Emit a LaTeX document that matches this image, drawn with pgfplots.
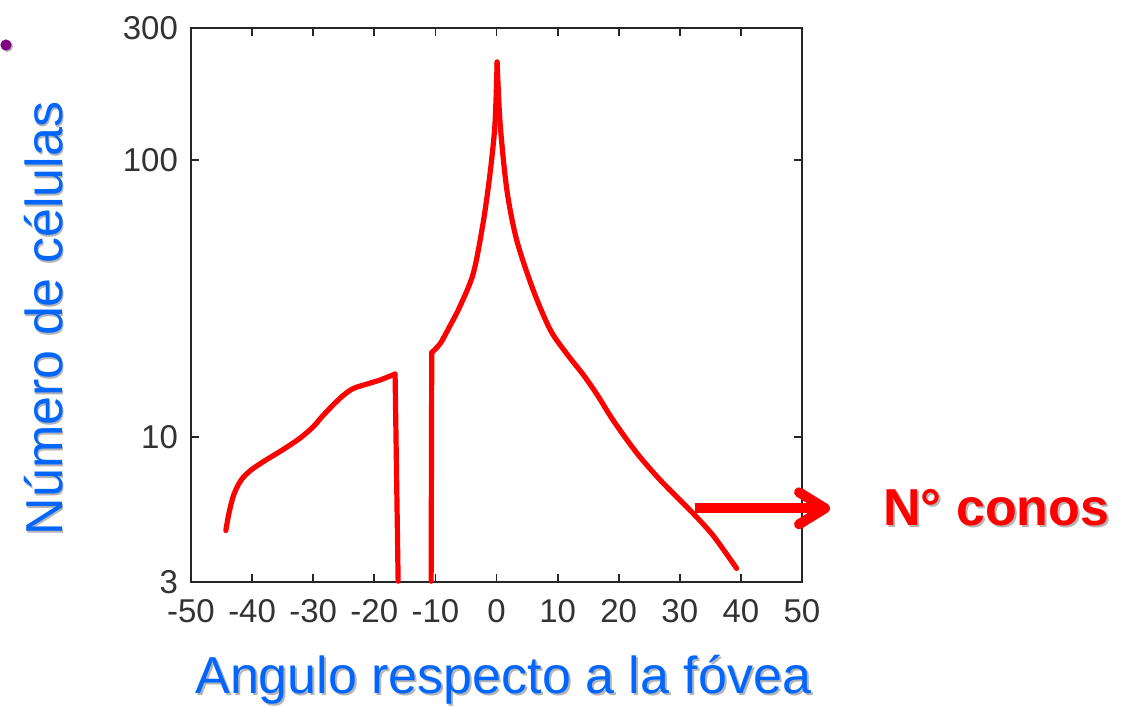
\documentclass[border=0pt]{standalone}
\usepackage{pgfplots}
\pgfplotsset{compat=1.18}
\usepackage{fontspec}
\setmainfont{Liberation Sans}
\usetikzlibrary{arrows.meta}

\definecolor{lblblue}{HTML}{0066FF}
\definecolor{conred}{HTML}{FF0000}
\definecolor{shadowgray}{HTML}{B4B4B4}
\definecolor{dotpurple}{HTML}{800080}

\begin{document}
\begin{tikzpicture}
% page size fixed to the reference proportions
\path[use as bounding box] (-95.5pt,-62pt) rectangle (465.5pt,291pt);

\begin{axis}[
    scale only axis,
    width=305.5pt,
    height=277pt,
    ymode=log,
    xmin=-50, xmax=50,
    ymin=3, ymax=300,
    xtick={-50,-40,...,50},
    ytick={3,10,100,300},
    yticklabels={3,10,100,300},
    yminorticks=false,
    tick align=inside,
    major tick length=4pt,
    axis line style={line width=0.9pt, black!85},
    every tick/.style={line width=0.9pt, black!85},
    ticklabel style={font=\fontsize{16.5}{19}\selectfont, text=black!80},
    /pgf/number format/assume math mode=true,
    xticklabel style={yshift=-5pt},
    yticklabel style={xshift=-3pt},
    clip=false,
    cone/.style={conred, line width=2.6pt, line join=round, line cap=round},
    ]
% left of the blind spot
\addplot[cone, smooth, tension=0.5] coordinates {
    (-44.3,4.6) (-43.8,5.3) (-43.0,6.2) (-41.8,7.0) (-40.2,7.6) (-38.0,8.2)
    (-35.0,9.0) (-32.2,9.9) (-30.0,10.9) (-28.5,11.9)
    (-26.7,13.1) (-25.0,14.2) (-23.4,15.0) (-21.0,15.6) (-19.0,16.1)
    (-16.6,16.9)
};
\addplot[cone] coordinates {(-16.6,16.9) (-16.1,3.02)};
% blind spot edge and rise to the fovea
\addplot[cone] coordinates {(-10.7,3.02) (-10.6,20.2)};
\addplot[cone, smooth, tension=0.5] coordinates {
    (-10.6,20.2) (-9.2,21.8) (-7.5,25.5) (-6.0,29.6)
    (-3.8,39.0) (-2.2,59.2) (-1.06,89.4) (-0.25,135) (0.1,226)
};
% fovea to periphery
\addplot[cone, smooth, tension=0.5] coordinates {
    (0.1,226) (0.6,135) (1.7,78) (3.3,51.5) (6.0,34.0) (8.8,24.4) (11.5,20.0)
    (14.2,16.8) (16.5,14.2) (19.1,11.5) (22.9,8.8) (26.8,7.0)
    (32.2,5.3) (35.5,4.4) (39.3,3.36)
};
\end{axis}

% purple bullet
\fill[shadowgray] (-91.8pt,267.8pt) circle (2.8pt);
\fill[dotpurple] (-92.5pt,268.5pt) circle (2.8pt);

% axis titles with a light drop shadow
\node[anchor=base west, inner sep=0, text=shadowgray, font=\fontsize{26}{30}\selectfont]
    at (3pt,-56.5pt) {Angulo respecto a la fóvea};
\node[anchor=base west, inner sep=0, text=lblblue, font=\fontsize{26}{30}\selectfont]
    at (2pt,-55.5pt) {Angulo respecto a la fóvea};
\node[rotate=90, anchor=base, inner sep=0, text=shadowgray, font=\fontsize{26}{30}\selectfont]
    at (-63.5pt,130.75pt) {Número de células};
\node[rotate=90, anchor=base, inner sep=0, text=lblblue, font=\fontsize{26}{30}\selectfont]
    at (-64.5pt,131.75pt) {Número de células};

% arrow and label
\draw[conred, line width=5pt, -{Straight Barb[length=13pt, width=16pt, line cap=round, line join=round]}]
    (252pt,36.85pt) -- (319.5pt,36.85pt);
\node[anchor=base west, inner sep=0, text=shadowgray, font=\bfseries\fontsize{26}{30}\selectfont]
    at (347pt,27.5pt) {N° conos};
\node[anchor=base west, inner sep=0, text=conred, font=\bfseries\fontsize{26}{30}\selectfont]
    at (346pt,28.5pt) {N° conos};
\end{tikzpicture}
\end{document}
